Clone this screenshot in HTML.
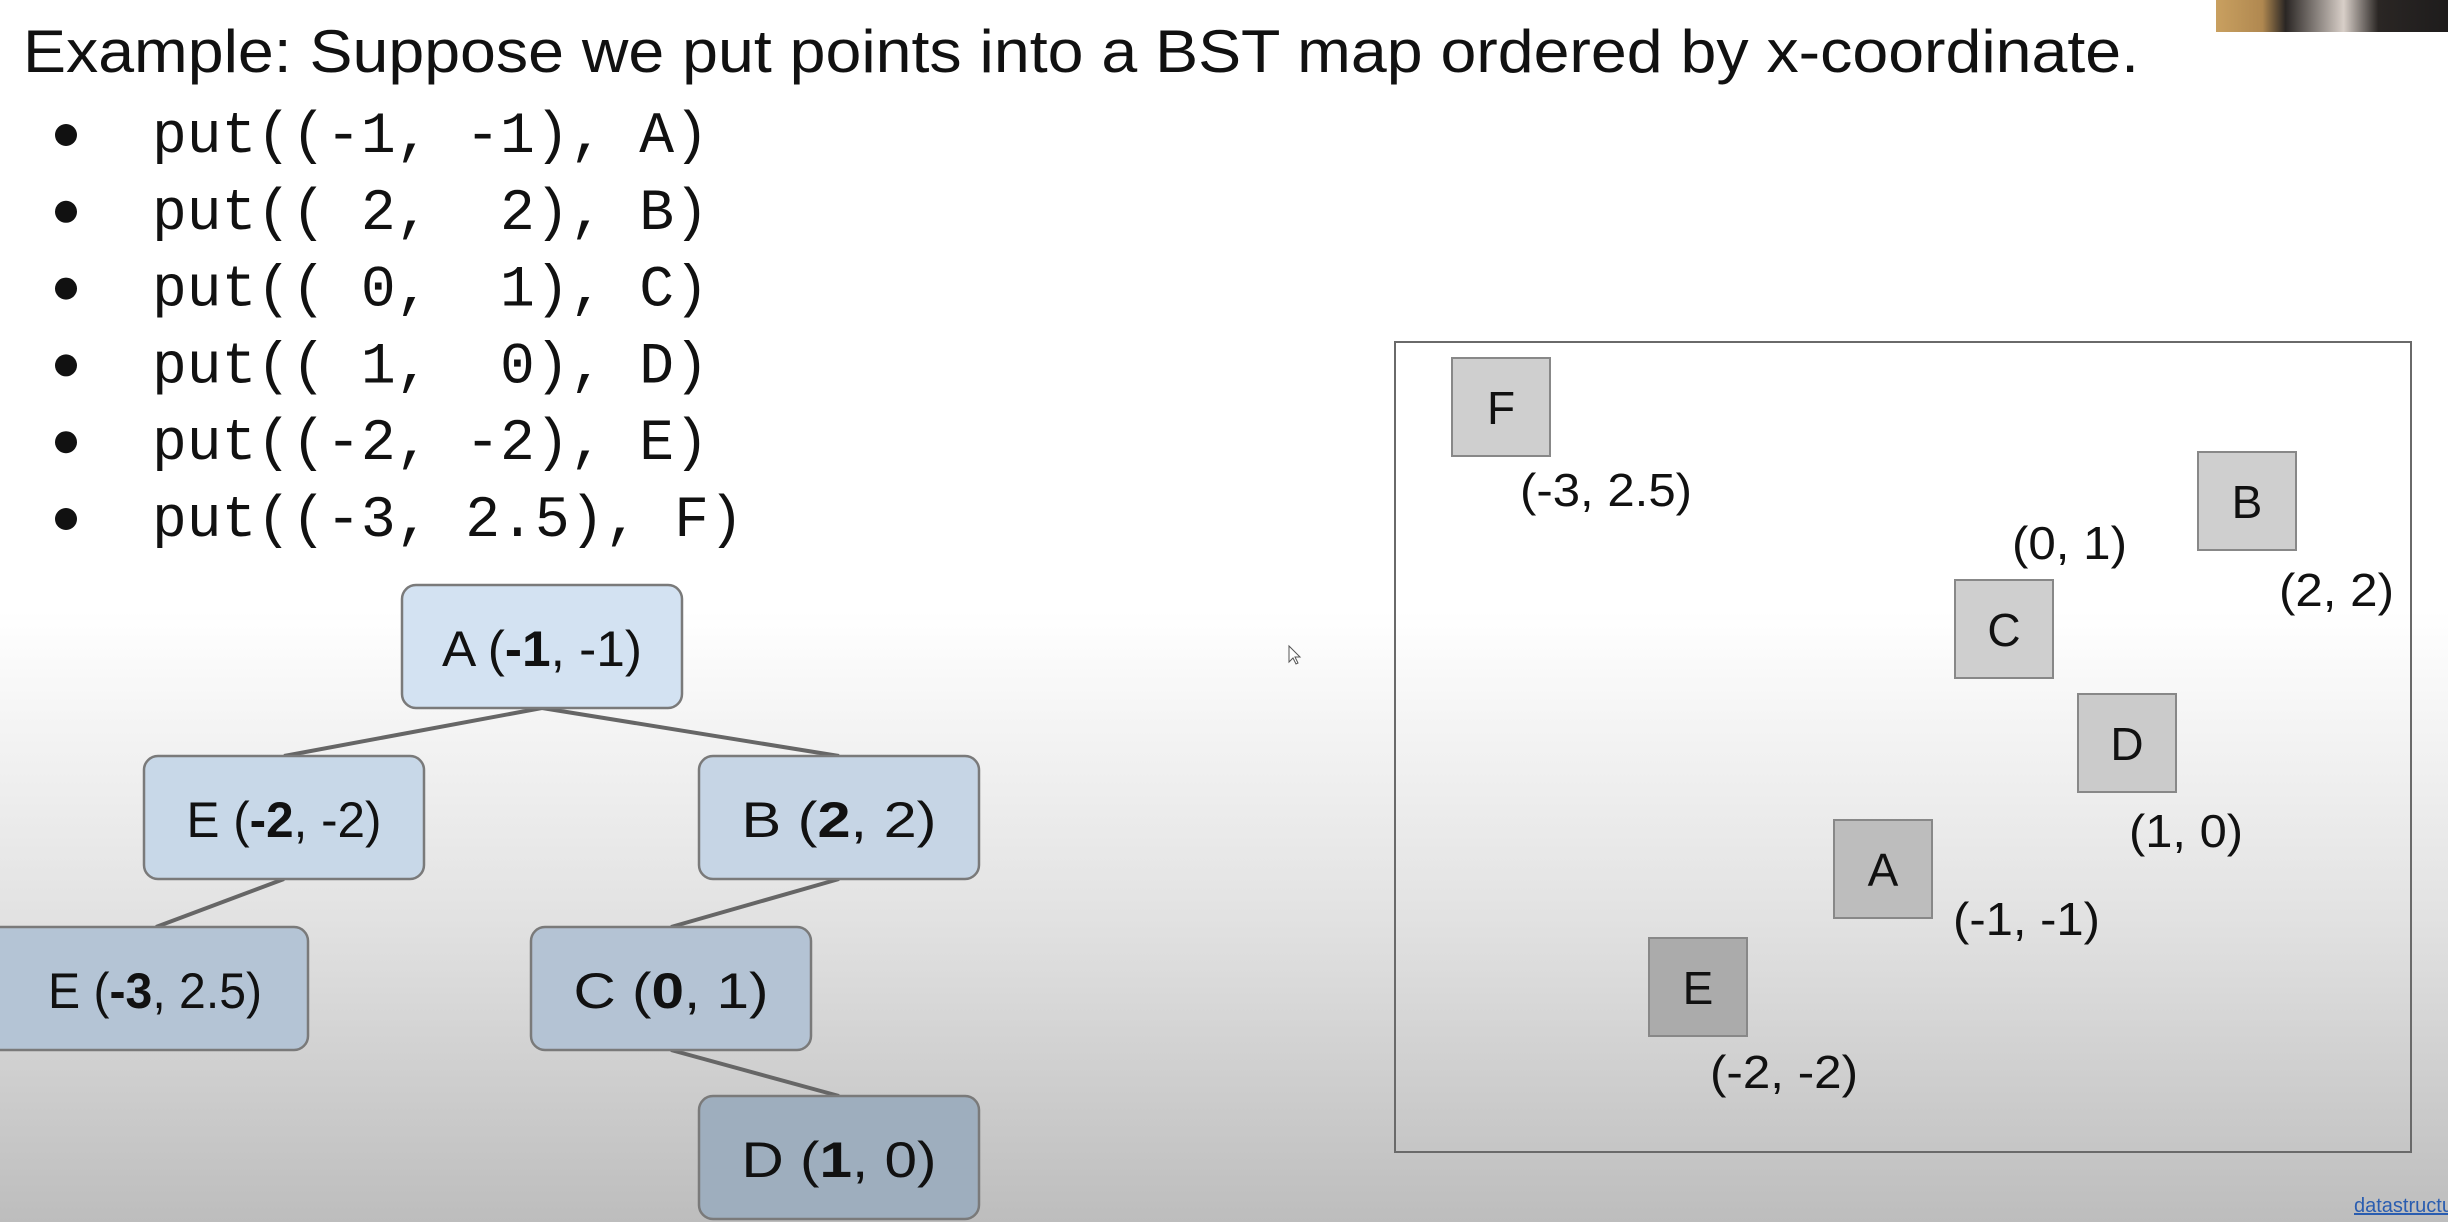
<!DOCTYPE html>
<html><head><meta charset="utf-8"><style>
html,body{margin:0;padding:0;width:2448px;height:1222px;overflow:hidden;}
svg{display:block;}
</style></head><body>
<svg id="s" width="2448" height="1222" viewBox="0 0 2448 1222" xmlns="http://www.w3.org/2000/svg">
<defs>
<linearGradient id="bg" x1="0" y1="0" x2="0" y2="1">
<stop offset="0" stop-color="#ffffff"/><stop offset="0.5" stop-color="#ffffff"/><stop offset="0.75" stop-color="#e2e2e2"/><stop offset="1" stop-color="#bdbdbd"/>
</linearGradient>
<linearGradient id="cam" x1="0" y1="0" x2="1" y2="0">
<stop offset="0" stop-color="#c9a060"/><stop offset="0.2" stop-color="#b08850"/><stop offset="0.3" stop-color="#2a2624"/><stop offset="0.55" stop-color="#d8cfc8"/><stop offset="0.7" stop-color="#2a2624"/><stop offset="1" stop-color="#1e1c1c"/>
</linearGradient>
</defs>
<rect x="0" y="0" width="2448" height="1222" fill="url(#bg)"/>
<rect x="2216" y="0" width="232" height="32" fill="url(#cam)"/>
<text x="23" y="72" font-family="Liberation Sans, sans-serif" font-size="60" fill="#111" textLength="2116" lengthAdjust="spacingAndGlyphs">Example: Suppose we put points into a BST map ordered by x-coordinate.</text>
<g id="bullets"></g>
<g id="tree"></g>
<rect x="1395" y="342" width="1016" height="810" fill="none" stroke="#6a6a6a" stroke-width="2"/>
<g id="plane"></g>
<path d="M1289 646 l0 16 l4 -4 l3 6 l2 -1 l-3 -6 l5 0 z" fill="#fff" stroke="#555" stroke-width="1"/>
<text x="2354" y="1212" font-family="Liberation Sans, sans-serif" font-size="20" fill="#2a5db0" text-decoration="underline">datastructur</text>
</svg>
<script>
const NS='http://www.w3.org/2000/svg';
const labels=['A','B','C','D','E','F'];
const xs=[-1,2,0,1,-2,-3];
const ys=[-1,2,1,0,-2,2.5];
const lines=['put((-1, -1), A)','put(( 2,  2), B)','put(( 0,  1), C)','put(( 1,  0), D)','put((-2, -2), E)','put((-3, 2.5), F)'];
const xKnots=[-3,-2,-1,0,1,2];
const yKnots=[-2,-1,0,1,2,2.5];
function interp(v,k,p){for(let i=0;i<k.length-1;i++){if(v<=k[i+1]||i===k.length-2){return p[i]+(v-k[i])/(k[i+1]-k[i])*(p[i+1]-p[i]);}}}
function xScale(v){return interp(v,xKnots,[1501,1698,1883,2004,2127,2247]);}
function yScale(v){return interp(v,yKnots,[987,869,743,629,501,407]);}
function mk(tag,attrs,parent){const e=document.createElementNS(NS,tag);for(const k in attrs)e.setAttribute(k,attrs[k]);parent.appendChild(e);return e;}
const fmt=v=>String(v);
// bullets
const bl=document.getElementById('bullets');
lines.forEach((t,i)=>{
  const y=152+i*76.8;
  const c=mk('circle',{cx:66,cy:y-17,r:11,fill:'#111'},bl);
  
  
  const tx=mk('text',{x:152,y:y,'font-family':'Liberation Mono, monospace','font-size':58,fill:'#111'},bl);
  tx.style.whiteSpace='pre';
  tx.textContent=t;
  
  
});
// tree
const tr=document.getElementById('tree');
const nodes=[
 {id:'A',lab:'A',x:402,y:585,f:'#d3e2f2',p:null},
 {id:'E',lab:'E',x:144,y:756,f:'#c8d8e8',p:'A'},
 {id:'B',lab:'B',x:699,y:756,f:'#c6d5e5',p:'A'},
 {id:'F',lab:'E',x:16,y:927,f:'#b4c4d5',p:'E'},
 {id:'C',lab:'C',x:531,y:927,f:'#b4c3d4',p:'B'},
 {id:'D',lab:'D',x:699,y:1096,f:'#9eaebe',p:'C'}];
const W=280,H=123;
const byId={};nodes.forEach(n=>byId[n.id]=n);
nodes.forEach(n=>{if(!n.p)return;const p=byId[n.p];
 const l=mk('line',{x1:p.x+W/2,y1:p.y+H,x2:n.x+W/2,y2:n.y,stroke:'#666',"stroke-width":4},tr);
 
 });
nodes.forEach(n=>{
 const i=labels.indexOf(n.id);
 const g=mk('g',{},tr);
 
 
 const wide=n.id==='F';
 mk('rect',{x:wide?-14:n.x,y:n.y,width:wide?322:W,height:H,rx:14,fill:n.f,stroke:'#7a7a7a',"stroke-width":2.5},g);
 const t=mk('text',{x:wide?155:n.x+W/2,y:n.y+81,'text-anchor':'middle','font-family':'Liberation Sans, sans-serif','font-size':50,fill:'#111','textLength':(wide?214:(n.id==='A'?200:195)),'lengthAdjust':'spacingAndGlyphs'},g);
 t.appendChild(document.createTextNode(n.lab+' ('));
 const b=mk('tspan',{'font-weight':'bold'},t);b.textContent=fmt(xs[i]);
 t.appendChild(document.createTextNode(', '+fmt(ys[i])+')'));
});
// plane
const pl=document.getElementById('plane');
const fills={A:'#bdbdbd',B:'#cfcfcf',C:'#cfcfcf',D:'#cbcbcb',E:'#ababab',F:'#cfcfcf'};
const offs={A:[119,115,147],B:[81,154,115],C:[57,-21,115],D:[51,153,114],E:[61,150,148],F:[68,148,172]};
labels.forEach((L,i)=>{
 const cx=xScale(xs[i]),cy=yScale(ys[i]);
 const g=mk('g',{},pl);
 
 
 mk('rect',{x:cx-49,y:cy-49,width:98,height:98,fill:fills[L],stroke:'#888',"stroke-width":2},g);
 const t=mk('text',{x:cx,y:cy+17,'text-anchor':'middle','font-family':'Liberation Sans, sans-serif','font-size':46,fill:'#111'},g);
 t.textContent=L;
 const o=offs[L];
 const c=mk('text',{x:cx-49+o[0],y:cy-49+o[1],'font-family':'Liberation Sans, sans-serif','font-size':46,fill:'#111',textLength:o[2],lengthAdjust:'spacingAndGlyphs'},g);
 c.textContent='('+fmt(xs[i])+', '+fmt(ys[i])+')';
 
 
});
</script>
</body></html>
